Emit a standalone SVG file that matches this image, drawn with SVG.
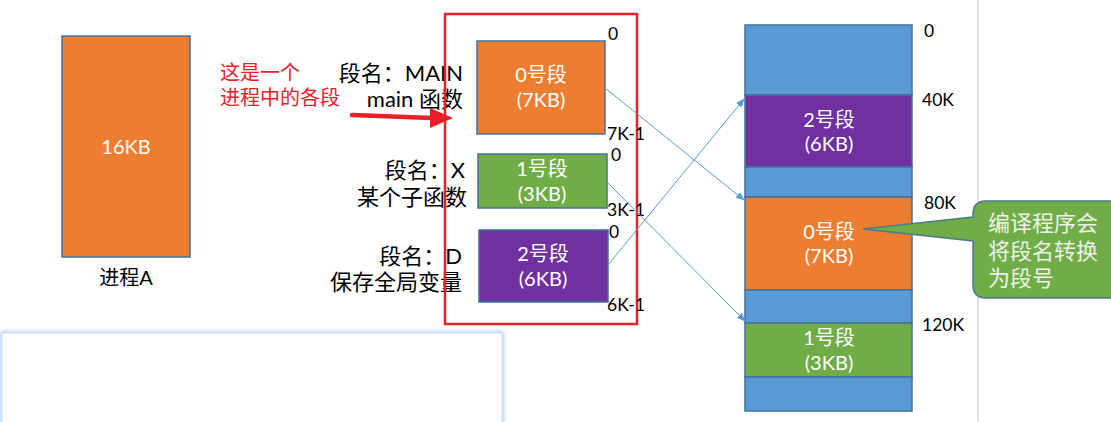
<svg xmlns="http://www.w3.org/2000/svg" width="1111" height="422" viewBox="0 0 1111 422">
<style>
text{font-family:Lato,"Noto Sans CJK SC",sans-serif}
.w{fill:#fff;font-size:20px;text-anchor:middle}
.b{fill:#000;font-size:22px;text-anchor:end}
.n{fill:#000;font-size:17.5px}
.seg{stroke:#41719C;stroke-width:1.5}
.or{fill:#ED7D31}.gr{fill:#70AD47}.pu{fill:#7030A0}.bl{fill:#5B9BD5}
.con{stroke:#5B9BD5;stroke-width:1;fill:none;marker-end:url(#ah)}
</style>
<defs>
<marker id="ah" viewBox="0 0 10 10" refX="9" refY="5" markerWidth="9" markerHeight="9" markerUnits="userSpaceOnUse" orient="auto">
<path d="M0,1 L10,5 L0,9 Z" fill="#5B9BD5"/>
</marker>
<filter id="glow" x="-5%" y="-20%" width="110%" height="140%">
<feGaussianBlur stdDeviation="2"/>
</filter>
</defs>
<rect width="1111" height="422" fill="#fff"/>
<line x1="978" y1="0" x2="978" y2="422" stroke="#E2E2E2" stroke-width="2"/>

<g id="bottom-box">
<rect x="2" y="333" width="500" height="100" fill="none" stroke="#9CC3F0" stroke-width="3" filter="url(#glow)"/>
<rect x="2" y="333" width="500" height="100" fill="#fff" stroke="#C5DCF5" stroke-width="1"/>
</g>

<g id="process-a">
<rect x="62" y="36" width="128" height="221" class="or seg"/>
<text x="126" y="154" class="w">16KB</text>
<text x="126" y="285" style="font-size:20px;text-anchor:middle">进程A</text>
</g>

<g id="note">
<text x="220" y="80" style="fill:#E8202A;font-size:20px">这是一个</text>
<text x="220" y="105" style="fill:#E8202A;font-size:20px">进程中的各段</text>
<path d="M352,115 L432,118" stroke="#E8202A" stroke-width="4.5" fill="none" stroke-linecap="round"/>
<path d="M430,108 L453,118 L430,128 Z" fill="#E8202A"/>
</g>

<g id="labels-left">
<text x="463" y="81" class="b">段名：MAIN</text>
<text x="463" y="107" class="b">main 函数</text>
<text x="465" y="178" class="b">段名：X</text>
<text x="467" y="205" class="b">某个子函数</text>
<text x="462" y="264" class="b">段名：D</text>
<text x="462" y="290" class="b">保存全局变量</text>
</g>

<g id="segment-group">
<rect x="445" y="14" width="192" height="310" fill="none" stroke="#E8202A" stroke-width="2.5"/>
</g>

<g id="seg0">
<rect x="477" y="41" width="128" height="93" class="or seg"/>
<text x="541" y="82" class="w">0号段</text>
<text x="541" y="107" class="w">(7KB)</text>
</g>
<g id="seg1">
<rect x="478" y="154" width="129" height="54" class="gr seg"/>
<text x="542" y="176" class="w">1号段</text>
<text x="542" y="201" class="w">(3KB)</text>
</g>
<g id="seg2">
<rect x="479" y="230" width="129" height="72" class="pu seg"/>
<text x="543" y="261" class="w">2号段</text>
<text x="543" y="286" class="w">(6KB)</text>
</g>

<g id="offsets">
<text x="608" y="40" class="n">0</text>
<text x="607" y="140" class="n">7K-1</text>
<text x="611" y="161" class="n">0</text>
<text x="607" y="216" class="n">3K-1</text>
<text x="609" y="238" class="n">0</text>
<text x="607" y="311" class="n">6K-1</text>
</g>

<g id="memory">
<rect x="745" y="25" width="167" height="70" class="bl seg"/>
<rect x="745" y="95" width="167" height="72" class="pu seg"/>
<rect x="745" y="167" width="167" height="30" class="bl seg"/>
<rect x="745" y="197" width="167" height="93" class="or seg"/>
<rect x="745" y="290" width="167" height="33" class="bl seg"/>
<rect x="745" y="323" width="167" height="54" class="gr seg"/>
<rect x="745" y="377" width="167" height="34" class="bl seg"/>
<text x="829" y="127" class="w">2号段</text>
<text x="829" y="151" class="w">(6KB)</text>
<text x="829" y="239" class="w">0号段</text>
<text x="829" y="263" class="w">(7KB)</text>
<text x="829" y="345" class="w">1号段</text>
<text x="829" y="370" class="w">(3KB)</text>
</g>

<g id="addresses">
<text x="924" y="37" class="n">0</text>
<text x="922" y="106" class="n">40K</text>
<text x="924" y="209" class="n">80K</text>
<text x="922" y="331" class="n">120K</text>
</g>

<g id="connectors">
<line x1="605" y1="88" x2="744" y2="200" class="con"/>
<line x1="607" y1="182" x2="745" y2="321" class="con"/>
<line x1="608" y1="265" x2="744" y2="99" class="con"/>
</g>

<g id="callout">
<path d="M986,201 H1118 V298 H986 Q973,298 973,285 V241 L863,229 L973,217 V214 Q973,201 986,201 Z" fill="#70AD47" stroke="#4A7A8C" stroke-width="1.5"/>
<text x="988" y="231" style="fill:#EEF2EA;font-size:22px">编译程序会</text>
<text x="988" y="259" style="fill:#EEF2EA;font-size:22px">将段名转换</text>
<text x="988" y="286" style="fill:#EEF2EA;font-size:22px">为段号</text>
</g>
</svg>
